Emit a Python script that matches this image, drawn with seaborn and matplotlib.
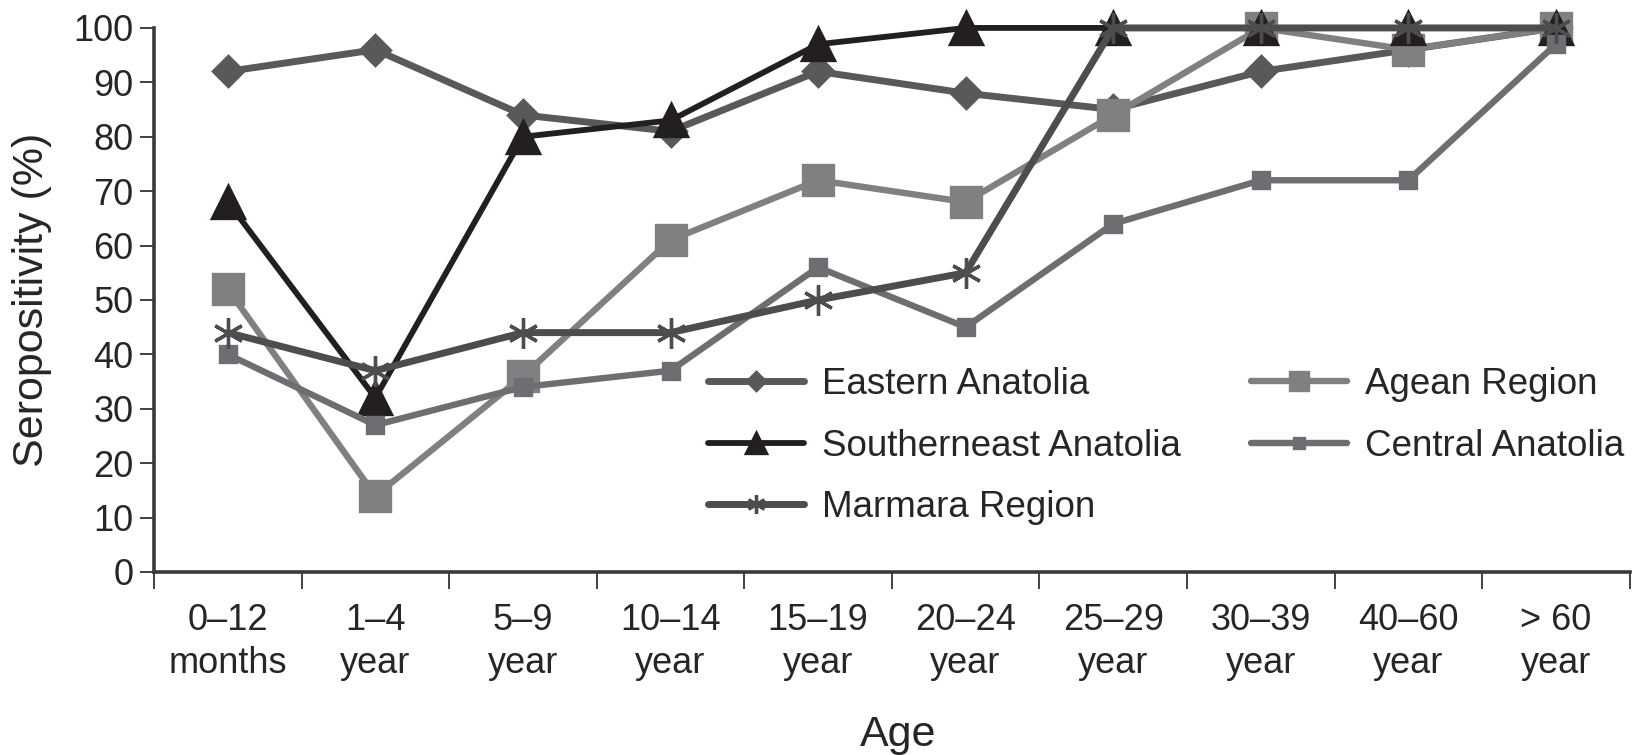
import pandas as pd
import numpy as np
from matplotlib import pyplot as plt
import seaborn as sns

sns.set_style("ticks")
plt.rcParams['font.family'] = ['Liberation Sans', 'DejaVu Sans']
plt.rcParams['figure.dpi'] = 100

# categories and series values
age_groups = ["0–12\nmonths", "1–4\nyear", "5–9\nyear", "10–14\nyear", "15–19\nyear",
              "20–24\nyear", "25–29\nyear", "30–39\nyear", "40–60\nyear", "> 60\nyear"]
eastern = [92, 96, 84, 81, 92, 88, 85, 92, 96, 100]
southeast = [68, 32, 80, 83, 97, 100, 100, 100, 100, 100]
marmara = [44, 37, 44, 44, 50, 55, 100, 100, 100, 100]
agean = [52, 14, 36, 61, 72, 68, 84, 100, 96, 100]
central = [40, 27, 34, 37, 56, 45, 64, 72, 72, 97]

regions = ["Eastern Anatolia", "Southerneast Anatolia", "Marmara Region",
           "Agean Region", "Central Anatolia"]
series = [eastern, southeast, marmara, agean, central]

style = {
    "Eastern Anatolia":      dict(color="#58595b", marker="D", ms=15, lw=5.0, z=3),
    "Southerneast Anatolia": dict(color="#231f20", marker="^", ms=23, lw=4.2, z=5),
    "Marmara Region":        dict(color="#4d4d4f", marker=(6, 2, 0), ms=22, lw=5.0, z=7),
    "Agean Region":          dict(color="#808083", marker="s", ms=22, lw=4.6, z=4),
    "Central Anatolia":      dict(color="#6d6e71", marker="s", ms=11, lw=4.6, z=6),
}

df = pd.concat(
    [pd.DataFrame({"pos": np.arange(len(age_groups)), "value": vals, "region": name})
     for name, vals in zip(regions, series)],
    ignore_index=True
)

fig = plt.figure(figsize=(16.33, 7.55))
ax = fig.add_axes([0.0943, 0.2424, 0.9037, 0.7206])

for name in regions:
    s = style[name]
    sub = df[df["region"] == name]
    sns.lineplot(x="pos", y="value", data=sub, ax=ax, color=s["color"], marker=s["marker"],
                 markersize=s["ms"], markeredgecolor=s["color"], markerfacecolor=s["color"],
                 markeredgewidth=2.4, linewidth=s["lw"], label=name, zorder=s["z"],
                 clip_on=False, legend=True)

ax.set_xlim(-0.5, len(age_groups) - 0.5)
ax.set_ylim(0, 100)
ax.set_yticks(np.arange(0, 101, 10))
ax.set_xticks(np.arange(-0.5, len(age_groups), 1.0))
ax.set_xticklabels([])
ax.set_xticks(np.arange(len(age_groups)), minor=True)
ax.set_xticklabels(age_groups, minor=True, linespacing=1.3)
ax.tick_params(axis="x", which="minor", length=0, pad=22, labelsize=26)
ax.tick_params(axis="x", which="major", length=12, width=1.3, color="#333333")
ax.tick_params(axis="y", length=10, width=1.3, pad=5, labelsize=26, color="#333333")

sns.despine(ax=ax)
for side in ["left", "bottom"]:
    ax.spines[side].set_linewidth(2.6)
    ax.spines[side].set_color("#3a3a3a")

ax.set_ylabel("Seropositivity (%)", fontsize=31)
ax.yaxis.set_label_coords(-0.069, 0.5)
ax.set_xlabel("Age", fontsize=31)
ax.xaxis.set_label_coords(0.504, -0.262)

handles, labels = ax.get_legend_handles_labels()
ax.legend(handles, labels, ncol=2, frameon=False, fontsize=26.5, loc="upper left",
          bbox_to_anchor=(0.4225, 0.538), bbox_transform=fig.transFigure,
          borderpad=0, handlelength=2.6, handletextpad=0.5, columnspacing=1.9,
          labelspacing=0.72, markerscale=0.6)

fig.savefig("out.png", dpi=100)
